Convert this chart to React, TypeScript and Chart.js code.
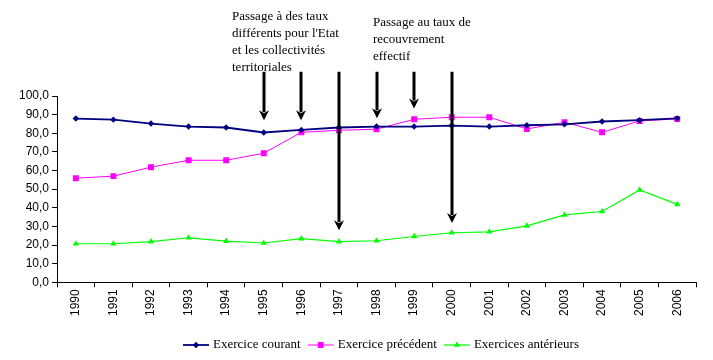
import React, { useEffect, useRef } from 'react';
import { Chart, registerables } from 'chart.js';

Chart.register(...registerables);

const years = ['1990', '1991', '1992', '1993', '1994', '1995', '1996', '1997', '1998', '1999', '2000', '2001', '2002', '2003', '2004', '2005', '2006'];
const courant = [87.9, 87.3, 85.2, 83.6, 83.1, 80.4, 81.8, 83.1, 83.6, 83.6, 84.1, 83.6, 84.3, 84.8, 86.3, 87.0, 88.0];
const precedent = [55.9, 57.0, 61.8, 65.5, 65.5, 69.3, 80.5, 81.6, 82.2, 87.5, 88.6, 88.6, 82.3, 85.9, 80.5, 86.6, 87.7];
const anterieurs = [20.7, 20.7, 21.8, 23.9, 22.1, 21.1, 23.4, 21.8, 22.3, 24.6, 26.6, 27.1, 30.3, 36.2, 38.0, 49.6, 41.8];
const seriesNames = ['Exercice courant', 'Exercice précédent', 'Exercices antérieurs'];

const yMin = 0;
const yMax = 100;
const yStep = 10;

const arrowYears = ['1995', '1996', '1997', '1998', '1999', '2000'];
const arrowTips = [87, 87, 28, 88, 93.3, 31.8];
const arrowTop = 113;

const note1 = ['Passage à des taux', "différents pour l'Etat", 'et les collectivités', 'territoriales'];
const note2 = ['Passage au taux de', 'recouvrement', 'effectif'];

const colors = ['#000080', '#FF00FF', '#00FF00'];
const pointStyles = ['rectRot', 'rect', 'triangle'];
const pointRadii = [3.2, 4.2, 3.6];
const lineWidths = [1.8, 1, 1.2];

function drawMarker(ctx: CanvasRenderingContext2D, style: string, r: number, x: number, y: number, color: string) {
  ctx.fillStyle = color;
  ctx.beginPath();
  if (style === 'rectRot') {
    ctx.moveTo(x - r, y);
    ctx.lineTo(x, y - r);
    ctx.lineTo(x + r, y);
    ctx.lineTo(x, y + r);
  } else if (style === 'rect') {
    const s = Math.SQRT1_2 * r;
    ctx.rect(x - s, y - s, 2 * s, 2 * s);
  } else {
    const h = r * 1.5;
    const w = (r * Math.sqrt(3)) / 2;
    ctx.moveTo(x - w, y + h / 3);
    ctx.lineTo(x, y - (2 * h) / 3);
    ctx.lineTo(x + w, y + h / 3);
  }
  ctx.closePath();
  ctx.fill();
}

const annotPlugin = {
  id: 'annot',
  afterDatasetsDraw(chart: any) {
    const ctx = chart.ctx;
    const xs = chart.scales.x;
    const ys = chart.scales.y;
    ctx.save();
    ctx.strokeStyle = '#000';
    ctx.fillStyle = '#000';
    arrowYears.forEach((yr, i) => {
      const px = Math.round(xs.getPixelForValue(years.indexOf(yr)));
      const top = ys.getPixelForValue(arrowTop);
      const tip = ys.getPixelForValue(arrowTips[i]);
      const headH = 10;
      const headW = 5;
      ctx.lineWidth = 3;
      ctx.beginPath();
      ctx.moveTo(px, top);
      ctx.lineTo(px, tip - headH + 2);
      ctx.stroke();
      ctx.beginPath();
      ctx.moveTo(px - headW, tip - headH);
      ctx.lineTo(px, tip - headH + 3);
      ctx.lineTo(px + headW, tip - headH);
      ctx.lineTo(px, tip);
      ctx.closePath();
      ctx.fill();
    });
    ctx.font = '13px "Liberation Serif", "Times New Roman", serif';
    ctx.textAlign = 'left';
    ctx.textBaseline = 'alphabetic';
    note1.forEach((t, i) => ctx.fillText(t, 232, 20 + i * 17));
    note2.forEach((t, i) => ctx.fillText(t, 373, 26 + i * 17));
    ctx.restore();
  },
  afterDraw(chart: any) {
    const ctx = chart.ctx;
    ctx.save();
    ctx.font = '13px "Liberation Serif", "Times New Roman", serif';
    ctx.textBaseline = 'middle';
    ctx.textAlign = 'left';
    const cy = 345;
    let x = 183;
    seriesNames.forEach((name, i) => {
      ctx.strokeStyle = colors[i];
      ctx.lineWidth = lineWidths[i];
      ctx.beginPath();
      ctx.moveTo(x, cy);
      ctx.lineTo(x + 26, cy);
      ctx.stroke();
      drawMarker(ctx, pointStyles[i], pointRadii[i], x + 13, cy, colors[i]);
      ctx.fillStyle = '#000';
      ctx.fillText(name, x + 30, cy);
      x += 30 + ctx.measureText(name).width + 7;
    });
    ctx.restore();
  },
};

export default function App() {
  const ref = useRef<HTMLCanvasElement>(null);
  useEffect(() => {
    if (!ref.current) return;
    const data = [courant, precedent, anterieurs];
    const chart = new Chart(ref.current, {
      type: 'line',
      data: {
        labels: years,
        datasets: data.map((d, i) => ({
          label: seriesNames[i],
          data: d,
          borderColor: colors[i],
          backgroundColor: colors[i],
          borderWidth: lineWidths[i],
          pointStyle: pointStyles[i] as any,
          pointRadius: pointRadii[i],
          pointBorderWidth: 0,
          pointBackgroundColor: colors[i],
          pointBorderColor: colors[i],
          tension: 0,
          fill: false,
        })),
      },
      options: {
        responsive: false,
        animation: false,
        devicePixelRatio: 1,
        layout: { padding: { left: 16, right: 17, top: 96, bottom: 42 } },
        plugins: { legend: { display: false }, tooltip: { enabled: false } },
        scales: {
          x: {
            offset: true,
            grid: { offset: true, drawOnChartArea: false, color: '#000', tickLength: 5, tickWidth: 1 },
            border: { color: '#000', width: 1 },
            ticks: {
              color: '#000',
              maxRotation: 90,
              minRotation: 90,
              padding: 2,
              autoSkip: false,
              font: { family: '"Liberation Sans", Arial, sans-serif', size: 12 },
            },
          },
          y: {
            min: yMin,
            max: yMax,
            grid: { drawOnChartArea: false, color: '#000', tickLength: 5 },
            border: { color: '#000', width: 1 },
            ticks: {
              stepSize: yStep,
              color: '#000',
              padding: 3,
              font: { family: '"Liberation Sans", Arial, sans-serif', size: 12 },
              callback: (v: any) => Number(v).toFixed(1).replace('.', ','),
            },
          },
        },
      },
      plugins: [annotPlugin],
    });
    return () => chart.destroy();
  }, []);
  return (
    <div style={{ position: 'absolute', left: 0, top: 0, width: 713, height: 360, background: '#fff' }}>
      <canvas ref={ref} width={713} height={360} style={{ display: 'block' }} />
    </div>
  );
}
